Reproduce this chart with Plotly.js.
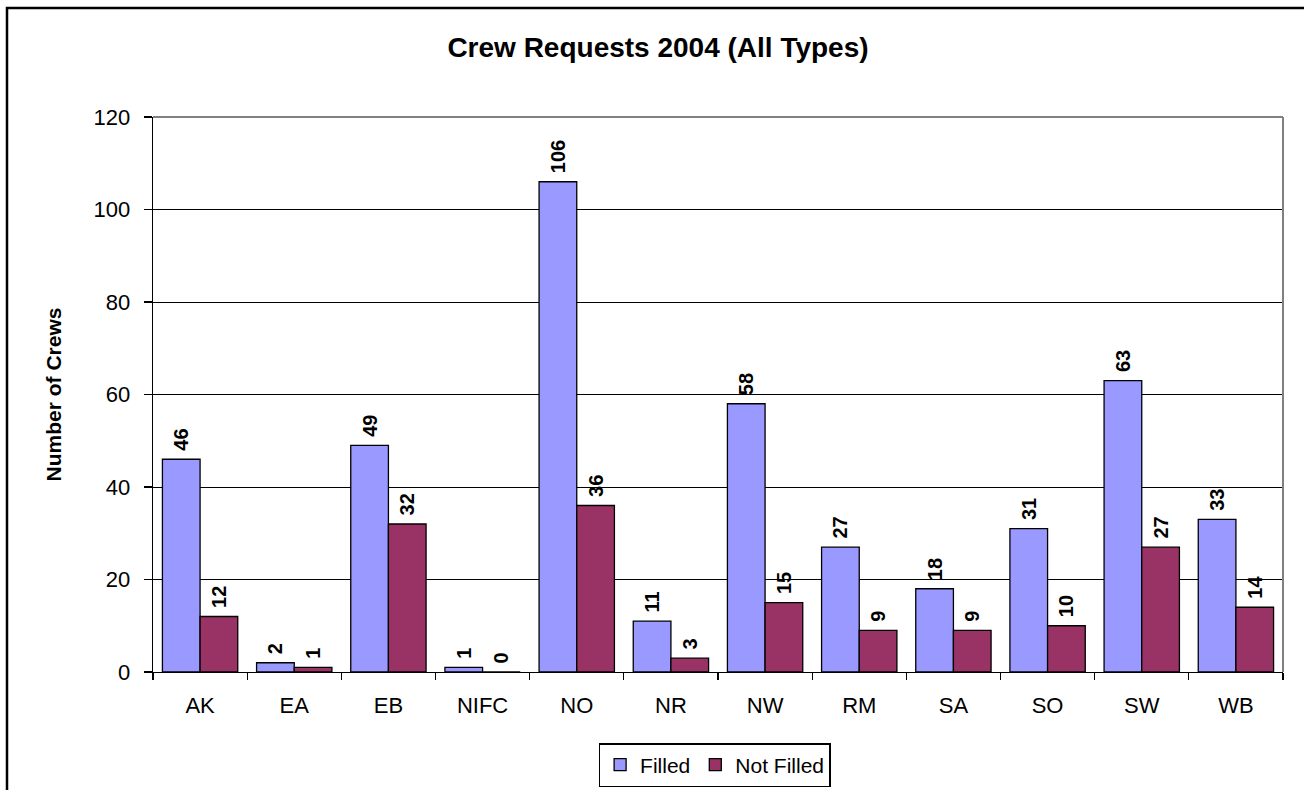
<!DOCTYPE html>
<html>
<head>
<meta charset="utf-8">
<script src="https://cdn.plot.ly/plotly-3.0.1.min.js"></script>
<style>
html,body{margin:0;padding:0;background:#fff;}
#chart{width:1304px;height:790px;}
</style>
</head>
<body>
<div id="chart"></div>
<script>
var categories = ["AK","EA","EB","NIFC","NO","NR","NW","RM","SA","SO","SW","WB"];
var filled = [46,2,49,1,106,11,58,27,18,31,63,33];
var notFilled = [12,1,32,0,36,3,15,9,9,10,27,14];
var yTicks = [0,20,40,60,80,100,120];

var font = "Arial, 'Liberation Sans', sans-serif";

function barTrace(name, values, color) {
  return {
    type: "bar", name: name, x: categories, y: values,
    text: values.map(String), texttemplate: "\u00a0%{text}",
    textposition: "outside", textangle: -90,
    cliponaxis: false, constraintext: "none",
    textfont: {family: font, size: 20, color: "#000", weight: "bold"},
    marker: {color: color, line: {color: "#000", width: 1.3}}
  };
}

var traces = [
  barTrace("Filled", filled, "#9999FF"),
  barTrace("Not Filled", notFilled, "#993366")
];

var layout = {
  width: 1304, height: 790,
  margin: {l: 153, r: 21, t: 117, b: 118, autoexpand: false},
  paper_bgcolor: "#fff", plot_bgcolor: "#fff",
  font: {family: font, size: 20, color: "#000"},
  title: {
    text: "<b>Crew Requests 2004 (All Types)</b>",
    font: {family: font, size: 28, color: "#000"},
    x: 658/1304, xref: "container", xanchor: "center",
    y: 1 - 47/790, yref: "container", yanchor: "middle",
    automargin: false
  },
  barmode: "group", bargap: 0.2, bargroupgap: 0,
  showlegend: true,
  legend: {
    orientation: "h", x: 0.497, xanchor: "center", y: -0.128, yanchor: "top",
    bordercolor: "#000", borderwidth: 1.5, bgcolor: "#fff",
    font: {family: font, size: 21, color: "#000"},
    itemwidth: 30, tracegroupgap: 0
  },
  xaxis: {
    type: "category", automargin: false,
    showline: true, linecolor: "#000", linewidth: 1.3,
    ticks: "outside", tickson: "boundaries", ticklen: 7, tickcolor: "#000", tickwidth: 1.3,
    ticklabelstandoff: 13,
    tickfont: {family: font, size: 22, color: "#000"},
    showgrid: false, zeroline: false
  },
  yaxis: {
    range: [0, 120], tickvals: yTicks, ticktext: yTicks.map(String), automargin: false,
    showline: true, linecolor: "#000", linewidth: 1.3,
    ticks: "outside", ticklen: 8, tickcolor: "#000", tickwidth: 1.3,
    ticklabelstandoff: 9,
    tickfont: {family: font, size: 22, color: "#000"},
    showgrid: true, gridcolor: "#000", gridwidth: 1,
    zeroline: false,
    title: {text: "<b>Number of Crews</b>", font: {family: font, size: 21, color: "#000"}, standoff: 26}
  },
  shapes: [
    {type: "line", xref: "paper", yref: "paper", x0: 0, x1: 1, y0: 1, y1: 1, line: {color: "#808080", width: 2}},
    {type: "line", xref: "paper", yref: "paper", x0: 1, x1: 1, y0: 0, y1: 1, line: {color: "#808080", width: 2}},
    {type: "rect", xref: "paper", yref: "paper",
     x0: (7 - 153) / 1130, x1: 1.2, y0: -0.4, y1: 1 + (117 - 8) / 555,
     line: {color: "#000", width: 2.5}, fillcolor: "rgba(0,0,0,0)", layer: "below"}
  ]
};

Plotly.newPlot("chart", traces, layout, {displayModeBar: false, staticPlot: true});
</script>
</body>
</html>
